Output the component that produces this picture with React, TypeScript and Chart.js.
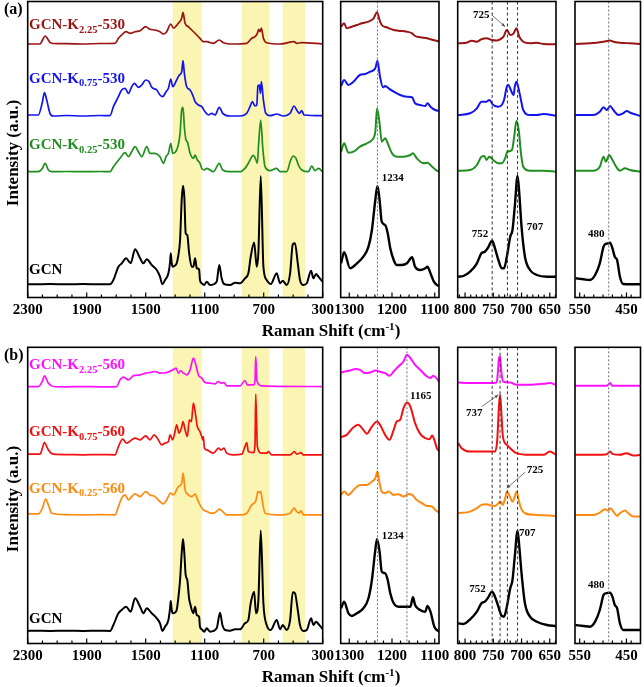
import React, { useEffect, useRef } from "react";
import { Chart, registerables } from "chart.js";
Chart.register(...registerables);

type Pt = [number, number];

// ---------------- tick labels / ticks ----------------
const mainTickLabels = [2300, 1900, 1500, 1100, 700, 300];
const z1TickLabels = [1300, 1200, 1100];
const z2TickLabels = [800, 750, 700, 650];
const z3TickLabels = [550, 450];
const mainMinor = [2200, 2100, 2000, 1800, 1700, 1600, 1400, 1300, 1200, 1000, 900, 800, 600, 500, 400];
const z1Minor = [1280, 1260, 1240, 1220, 1180, 1160, 1140, 1120];
const z2Minor = [810, 790, 780, 770, 760, 740, 730, 720, 710, 690, 680, 670, 660, 640];
const z3Minor = [540, 520, 500, 480, 460, 440];

const mainRange: [number, number] = [2300, 300];
const z1Range: [number, number] = [1320, 1090];
const z2Range: [number, number] = [813, 639];
const z3Range: [number, number] = [560, 420];

const highlightBands: [number, number][] = [[1317, 1120], [849, 662], [571, 420]];

const aZ1Lines = [1234];
const aZ2Lines = [752, 725, 707];
const aZ3Lines = [488];
const bZ1Lines = [1234, 1165];
const bZ2Lines = [752, 738, 725, 707];
const bZ3Lines = [488];

const aZ2Arrows: [Pt, Pt][] = [[[752.7, 282.5], [729, 270.8]]];
const bZ2Arrows: [Pt, Pt][] = [[[770.4, 236.8], [741, 248.5]], [[693.7, 171.2], [726.1, 155.2]]];

// ---------------- panel (a) spectra ----------------
const aGCNMain: Pt[] = [[2300,13.2],[2262,13.2],[2149,13.5],[2036,13.2],[1923,13.5],[1810,13.2],[1742,13.2],[1719,17.5],[1685,30.8],[1663,34],[1633,39.2],[1602,34.2],[1572,48.2],[1538,39.2],[1516,34.2],[1493,38.2],[1459,32.5],[1425,27.5],[1403,20.8],[1387,13.2],[1369,17.5],[1346,24.2],[1335,35],[1330,44.2],[1324,35],[1317,30.8],[1301,32],[1290,34.2],[1279,42],[1267,57.5],[1256,97.5],[1247,111.8],[1238,100],[1229,64.2],[1218,62.5],[1206,45],[1188,30.8],[1177,30.8],[1165,39.2],[1154,29.2],[1138,28.2],[1132,17.5],[1120,14.2],[1104,12.5],[1086,15.8],[1064,12.5],[1019,15.8],[1001,32.5],[985,19.2],[969,13.5],[928,12.5],[894,14.8],[860,14.2],[827,19.2],[804,24.2],[788,40.8],[765,55],[747,30.8],[736,45],[720,121.5],[702,30.8],[680,17.5],[652,13.5],[612,24.2],[589,14.2],[571,16.8],[544,12.5],[521,24.2],[503,53.2],[488,54.2],[469,34.2],[454,17.5],[431,12.5],[408,14.2],[379,26.8],[363,19.2],[345,23.5],[329,20.8],[300,15.8]];
const aK025Main: Pt[] = [[2300,125.8],[2228,125.8],[2201,129],[2182,134.2],[2160,127.5],[2137,125.8],[2036,126],[1923,125.8],[1810,126],[1742,125.8],[1719,130.8],[1674,139.2],[1640,144.8],[1617,140.8],[1595,145.8],[1572,150.8],[1550,145.8],[1527,140.8],[1493,150.8],[1471,144.2],[1437,144.2],[1403,140.8],[1380,134.2],[1362,140.8],[1346,144.2],[1330,154.2],[1317,144.2],[1290,147.5],[1267,164.2],[1256,187.5],[1247,190.2],[1238,170.8],[1227,157.5],[1218,155.8],[1199,144.2],[1177,139.2],[1165,142.5],[1150,137.5],[1132,134.2],[1120,129.2],[1104,127.5],[1086,129.2],[1041,125.8],[1001,134.2],[978,127.5],[928,125.8],[860,125.8],[827,129.2],[804,134.2],[781,140.8],[770,142.2],[752,137.5],[743,134.2],[734,154.2],[720,177.5],[707,150.8],[691,130.8],[657,126.8],[612,129.2],[589,125.8],[544,125.8],[517,137.5],[499,141.5],[481,139.2],[465,132.5],[442,127.5],[397,125.8],[374,131.5],[352,126.8],[329,129.2],[300,125.8]];
const aK075Main: Pt[] = [[2300,182.5],[2228,182.5],[2201,195],[2187,204.8],[2171,197.5],[2149,184.2],[2126,181.5],[2036,182],[1923,181.5],[1810,182],[1742,181.8],[1719,190.8],[1685,200.8],[1663,207.5],[1640,209.2],[1617,204.2],[1595,210.8],[1577,214.2],[1550,210.2],[1527,212.5],[1500,217.5],[1477,215.8],[1459,210.2],[1425,207.5],[1403,202.5],[1385,200.8],[1362,205.8],[1346,209.2],[1330,218.5],[1317,210.8],[1290,217.5],[1272,222.5],[1256,225.8],[1247,236.8],[1238,224.2],[1222,210.8],[1199,207.5],[1177,200.8],[1165,195.8],[1143,192.5],[1120,190.8],[1098,185.8],[1075,182.5],[1052,184.2],[1030,182.5],[1001,190.2],[978,184.2],[928,181.5],[860,181.5],[815,184.2],[793,190.8],[777,195.8],[759,191.5],[747,192.5],[739,211.5],[729,212.5],[722,204.2],[716,215.8],[702,197.5],[686,184.2],[657,181.8],[612,183.5],[567,181.5],[521,184.2],[494,191.5],[476,187.5],[458,184.2],[442,186.8],[426,182.5],[300,181.8]];
const aK225Main: Pt[] = [[2300,253.5],[2216,253.5],[2201,257],[2182,261.5],[2149,255.2],[2126,254],[2036,253.8],[1923,253.5],[1810,254],[1708,254.2],[1685,259.2],[1651,264.2],[1633,265.8],[1606,264.2],[1572,265.8],[1538,266.8],[1500,270.8],[1471,268.2],[1437,267.5],[1403,265.8],[1380,263.5],[1358,265.8],[1330,273.5],[1312,269.5],[1279,274.2],[1256,279.2],[1247,285.2],[1233,274.2],[1211,270.8],[1188,267.5],[1154,262.5],[1132,259.2],[1109,255.8],[1086,255.8],[1041,254.2],[1001,257.5],[973,254.8],[906,253.5],[815,254.2],[781,259.2],[759,260.8],[743,264.2],[734,268.2],[725,265.8],[716,269.5],[702,259.2],[680,254.8],[589,253.5],[494,255.8],[476,254.2],[442,254.8],[300,253.5]];

const aGCNZ1: Pt[] = [[1319,34.2],[1312,45.2],[1298,29.2],[1282,34.2],[1267,40.8],[1255,50.8],[1247,67.5],[1239,97.5],[1234,111.5],[1229,97.5],[1224,75.8],[1216,72.5],[1210,64.2],[1204,49.2],[1196,37.5],[1189,32.5],[1177,32.5],[1165,34.2],[1153,40.2],[1146,30.8],[1134,27.5],[1122,29.2],[1117,30.8],[1110,24.2],[1102,15.8],[1095,12.5],[1089,11.5]];
const aK025Z1: Pt[] = [[1319,145.8],[1312,154.2],[1302,144.8],[1290,145.8],[1275,150.8],[1259,154.2],[1247,157.5],[1239,165.8],[1235,189],[1229,174.2],[1224,155.8],[1216,159.2],[1210,154.2],[1200,144.2],[1189,140.8],[1173,140.8],[1157,142.5],[1151,144.2],[1142,139.2],[1126,134.2],[1117,134.8],[1106,130.8],[1095,126.8],[1089,125.8]];
const aK075Z1: Pt[] = [[1319,211.5],[1312,217.5],[1302,212.5],[1290,215.8],[1275,222.5],[1263,223.5],[1251,225.8],[1239,229.2],[1234,236.8],[1228,220.8],[1221,210.2],[1216,211.5],[1208,209.2],[1196,205.8],[1181,202.5],[1165,200.8],[1153,200.2],[1146,194.2],[1134,192.5],[1122,191.5],[1117,194.2],[1110,190.8],[1099,187.5],[1089,186.5]];
const aK225Z1: Pt[] = [[1319,270.8],[1312,274.2],[1306,269.2],[1298,270.2],[1282,272.5],[1271,274.2],[1255,275.8],[1243,279.2],[1235,285.2],[1229,277.5],[1224,272.5],[1212,270.2],[1196,267.5],[1185,266.8],[1165,265.8],[1153,264.2],[1146,261.5],[1134,260.2],[1118,259.2],[1110,258.2],[1099,257],[1089,255.8]];

const aGCNZ2: Pt[] = [[812,20.8],[803,21.5],[791,25.8],[779,34.2],[771,44.2],[765,45.8],[760,49.2],[752,56.8],[747,49.2],[741,37.5],[735,29.2],[731,29.2],[726,40.8],[720,60.8],[716,67.5],[712,90.8],[707,121.5],[704,104.2],[700,70.8],[694,40.8],[685,27.5],[673,22.5],[655,20.8],[639,20.8]];
const aK025Z2: Pt[] = [[812,126.8],[791,127.5],[779,132.5],[771,140.8],[766,141.5],[762,137.5],[757,140.8],[750,137.5],[741,134.2],[735,134.2],[729,139.2],[725,145.8],[717,147.5],[713,160.8],[709,176.8],[705,167.5],[701,144.2],[697,130.8],[685,126.8],[661,126.8],[639,125.8]];
const aK075Z2: Pt[] = [[812,182.5],[791,184.2],[779,189.2],[771,195.8],[762,195.8],[757,197.5],[750,192.5],[741,190.8],[735,192.5],[731,197.5],[726,210.8],[723,212.5],[719,207.5],[714,202.5],[712,210.8],[709,215.8],[706,210.8],[701,197.5],[697,187.5],[685,182.5],[673,182.5],[661,183.5],[639,181.8]];
const aK225Z2: Pt[] = [[812,254.2],[797,254.8],[788,256.8],[779,255.8],[771,258.2],[762,259.2],[753,257.5],[744,257],[738,258.2],[732,260.8],[726,267.5],[720,262.5],[714,264.2],[709,269.2],[704,260.8],[697,255.8],[685,254.2],[673,254.8],[661,253.5],[639,253.2]];

const aGCNZ3: Pt[] = [[559,19.2],[542,18.2],[528,17.5],[517,22.5],[507,34.2],[499,50.8],[496,53.2],[489,54.2],[485,54.8],[480,49.2],[475,40.8],[470,37.5],[464,20.8],[457,13.5],[443,13.2],[420,13.2]];
const aK025Z3: Pt[] = [[559,126.8],[521,126.8],[507,130.8],[499,140.8],[494,135.8],[487,142.5],[480,137.5],[472,130.8],[464,126.8],[453,129.2],[443,127.5],[420,125.8]];
const aK075Z3: Pt[] = [[559,182.5],[521,182.5],[507,185.8],[499,190.2],[492,187.5],[485,191.5],[478,187.5],[467,182.5],[457,184.2],[450,186.5],[439,184.2],[420,181.5]];
const aK225Z3: Pt[] = [[559,253.5],[528,254.2],[514,254.8],[499,255.8],[485,257],[478,255.8],[464,254.8],[443,254.2],[420,253.5]];

// ---------------- panel (b) spectra ----------------
const bGCNMain: Pt[] = [[2300,12.5],[2262,12.8],[2149,12.5],[2036,12.8],[1923,12.5],[1810,12.8],[1742,12.5],[1719,18.5],[1685,30.2],[1663,33.5],[1633,36.8],[1602,31.8],[1572,45.2],[1538,36.8],[1516,30.2],[1493,35.2],[1459,30.2],[1425,25.2],[1403,20.2],[1387,12.5],[1369,16.8],[1346,23.5],[1335,35],[1330,42.5],[1324,34],[1317,30.2],[1301,31],[1290,33.5],[1279,45],[1267,63.5],[1256,90.2],[1247,104.5],[1238,90.2],[1229,68.5],[1218,63.5],[1206,45],[1199,40.2],[1177,30.2],[1165,36.8],[1154,28.5],[1138,26.8],[1132,16.8],[1120,14.2],[1104,11.8],[1086,15.2],[1064,11.8],[1019,15.2],[996,30.8],[980,18.5],[962,13.5],[928,12.8],[894,14.2],[860,14.2],[827,20.2],[804,23.5],[788,40.2],[765,51.8],[752,30.2],[736,43.5],[720,112.8],[702,40.2],[680,18.5],[652,13.5],[612,23.5],[589,14.2],[571,18.5],[544,13.5],[521,23.5],[503,51.2],[488,50.2],[469,33.5],[454,18.5],[431,12.5],[408,13.5],[379,25.2],[363,18.5],[345,21.8],[329,19.5],[300,14.2]];
const bK025Main: Pt[] = [[2300,129.5],[2228,129.5],[2201,135],[2178,144.2],[2160,138.5],[2137,130.2],[2036,128.8],[1923,128.5],[1810,128.8],[1708,128.5],[1685,136.8],[1663,145.2],[1640,148.5],[1617,143.5],[1595,146.8],[1572,149.5],[1538,146.8],[1500,151.8],[1471,148.5],[1437,146.8],[1403,141.8],[1380,139.5],[1358,143.5],[1330,150.2],[1312,148.5],[1279,156.8],[1256,160.2],[1247,170.2],[1233,153.5],[1211,148.5],[1188,146.8],[1165,149.5],[1150,144.2],[1132,138.5],[1109,133.5],[1082,131.8],[1064,130.2],[1030,130.8],[1001,134.2],[978,131.8],[951,128.5],[860,128.5],[815,130.2],[781,138.5],[765,140.2],[752,143.5],[739,151.8],[729,150.8],[720,151.8],[707,140.2],[691,130.2],[589,128.5],[521,130.2],[494,135.2],[476,131.8],[458,130.2],[447,132.8],[431,128.5],[300,128.5]];
const bK075Main: Pt[] = [[2300,189.2],[2216,189.2],[2201,195],[2187,200.8],[2160,193.5],[2126,189.2],[2036,188.8],[1923,188.5],[1810,188.8],[1708,188.5],[1685,196.8],[1656,204.2],[1629,200.2],[1595,203.5],[1572,205.2],[1538,203.5],[1500,207.5],[1471,203.5],[1443,208.5],[1421,205.2],[1391,198.5],[1369,200.2],[1346,201.8],[1335,208.5],[1317,203.5],[1301,211.8],[1290,218.5],[1274,210.2],[1256,216.2],[1247,221.8],[1233,213.5],[1218,206.8],[1204,223.5],[1190,221.8],[1177,240.2],[1165,231.8],[1150,216.8],[1132,211.8],[1120,206.8],[1113,203.5],[1109,206.8],[1102,195.2],[1086,193.5],[1041,190.2],[1007,195.2],[989,193.5],[969,195.2],[951,190.2],[906,188.5],[849,189.2],[827,196.8],[815,200.8],[804,191.8],[770,190.8],[759,198],[754,249.2],[743,196.8],[714,190.2],[680,190.2],[668,191.8],[646,188.5],[521,188.5],[492,191.8],[476,189.2],[447,190.8],[431,188.5],[300,188.5]];
const bK225Main: Pt[] = [[2300,256.8],[2228,256.8],[2201,262],[2187,267.5],[2160,260.2],[2126,256.8],[2036,256.5],[1923,256.8],[1810,256.5],[1697,256.8],[1674,263.5],[1651,266.2],[1617,263.5],[1584,267.5],[1538,268.5],[1500,270.2],[1471,270.8],[1437,271.8],[1403,270.2],[1358,270.8],[1324,272.8],[1294,275.2],[1279,270.2],[1263,272.8],[1245,270.2],[1222,268.5],[1199,273.5],[1177,285.2],[1163,280.2],[1143,268.5],[1120,265.2],[1098,260.8],[1064,260.2],[1030,259.5],[1007,261.8],[989,260.2],[969,260.8],[951,257.5],[860,257.5],[827,262.8],[811,258.5],[770,258.5],[759,262],[754,286.8],[745,262],[714,257.5],[300,256.8]];

const bGCNZ1: Pt[] = [[1319,35.2],[1312,41.8],[1302,30.2],[1294,27.5],[1282,30.2],[1267,35.2],[1255,45.2],[1247,63.5],[1239,93.5],[1235,104.2],[1229,91.8],[1224,71.8],[1216,70.2],[1210,63.5],[1204,50.2],[1196,40.2],[1185,36.8],[1169,36.8],[1157,36.8],[1151,46.2],[1146,38.5],[1134,33.5],[1122,31.8],[1117,37.5],[1110,31.8],[1101,16.8],[1089,11.8]];
const bK025Z1: Pt[] = [[1319,148.5],[1312,151.8],[1302,148.5],[1290,153.5],[1275,158.5],[1259,158.5],[1247,161.8],[1239,165.2],[1234,171.8],[1229,160.2],[1224,151.8],[1216,150.2],[1208,151.8],[1196,148.5],[1185,149.2],[1173,146.8],[1161,149.5],[1153,148.5],[1142,143.5],[1130,140.2],[1118,137.5],[1106,136.8],[1099,133.5],[1089,130.8]];
const bK075Z1: Pt[] = [[1319,206.2],[1306,208.5],[1290,216.2],[1279,218.5],[1267,213.5],[1259,209.5],[1247,216.8],[1235,221.8],[1228,218.5],[1216,208.5],[1206,203.5],[1196,213.5],[1189,221.8],[1181,223.5],[1173,235.2],[1165,240.8],[1157,236.8],[1146,220.2],[1134,209.5],[1122,205.2],[1112,204.2],[1106,207.8],[1101,203.5],[1095,195.2],[1089,191.8]];
const bK225Z1: Pt[] = [[1319,270.8],[1310,271.8],[1298,272.8],[1286,274.2],[1275,273.5],[1263,270.2],[1251,270.8],[1239,272.8],[1228,271.5],[1216,270.2],[1206,267.5],[1196,271.8],[1185,276.8],[1173,281.8],[1165,288.5],[1157,285.2],[1146,278.5],[1134,273.5],[1118,266.8],[1110,265.2],[1104,267.5],[1096,265.2],[1089,260.8]];

const bGCNZ2: Pt[] = [[812,20.2],[803,19.5],[791,24.2],[779,31.8],[771,40.2],[765,41.8],[760,45.2],[752,51.8],[747,46.8],[741,36.8],[735,27.5],[731,26.8],[726,36.8],[720,55.2],[716,63.5],[712,86.8],[707,112.8],[704,96.8],[700,70.2],[694,40.2],[685,26.8],[673,21.8],[655,18.5],[639,17.5]];
const bK025Z2: Pt[] = [[812,130.2],[791,131.8],[779,135.2],[771,138.5],[762,139.2],[753,137.8],[747,137.5],[741,140.2],[737,141.8],[733,138.5],[729,145.2],[726,151.8],[722,148.5],[716,141.8],[712,146.8],[709,151.8],[705,143.5],[701,135.2],[694,130.2],[673,128.5],[639,127.5]];
const bK075Z2: Pt[] = [[812,200.2],[806,195.2],[791,191.8],[773,191.8],[756,191.8],[747,191.8],[743,203.5],[740,236.8],[738,248.5],[736,233.5],[733,206.8],[726,198.5],[717,193.5],[709,190.2],[685,188.5],[661,188.5],[650,191.8],[639,188.5]];
const bK225Z2: Pt[] = [[812,260.8],[791,260.2],[756,260.2],[744,260.8],[742,270.2],[740,285.2],[738,286.8],[736,273.5],[733,261.8],[720,260.8],[709,258.5],[685,258.5],[661,259.5],[650,260.2],[639,258.5]];

const bGCNZ3: Pt[] = [[559,18.5],[542,17.5],[528,16.8],[517,21.8],[507,33.5],[499,48.5],[494,50.2],[485,50.8],[480,46.8],[475,38.5],[470,35.2],[464,20.2],[457,13.5],[443,13.5],[420,13.5]];
const bK025Z3: Pt[] = [[559,128.5],[521,128.5],[507,130.8],[496,134.2],[489,132.8],[484,135.2],[478,131.8],[470,127.5],[464,130.2],[453,132.8],[446,130.2],[435,126.8],[420,126.8]];
const bK075Z3: Pt[] = [[559,188.5],[514,188.5],[492,189.2],[485,191.8],[480,189.5],[464,188.5],[450,190.2],[435,187.8],[420,188.5]];
const bK225Z3: Pt[] = [[559,257.5],[514,257.5],[492,257.5],[485,260.2],[480,257.5],[420,257.5]];

// ---------------- styling ----------------
const C = {
  black: "#000000",
  darkred: "#9A1414",
  blue: "#1414EE",
  green: "#1F8F1F",
  magenta: "#FF10FF",
  red: "#F41010",
  orange: "#FF8A10",
};
const BAND = "#FAF5B2";
const FONT = '"Liberation Serif", "Times New Roman", serif';
const Y_MAX = 296;

type Series = { data: Pt[]; color: string; width: number };
type SubProps = {
  L: number; R: number; T: number; B: number; padRight?: number;
  range: [number, number]; labels: number[]; minor: number[];
  series: Series[]; bands?: [number, number][];
  lines?: number[]; dashed?: boolean; arrows?: [Pt, Pt][];
};

function SubChart(p: SubProps) {
  const ref = useRef<HTMLCanvasElement>(null);
  const side = 22;
  const padR = p.padRight ?? 22;
  const cl = Math.floor(p.L - side);
  const ct = Math.max(0, Math.floor(p.T - 1));
  const cw = Math.ceil(p.R + padR) - cl;
  const ch = Math.ceil(p.B + 26) - ct;
  useEffect(() => {
    const canvas = ref.current!;
    const decor = {
      id: "decor",
      beforeDatasetsDraw(chart: any) {
        const { ctx, chartArea: a } = chart;
        const x = chart.scales.x;
        ctx.save();
        for (const [v1, v2] of p.bands || []) {
          const p1 = x.getPixelForValue(v1), p2 = x.getPixelForValue(v2);
          ctx.fillStyle = BAND;
          ctx.fillRect(Math.min(p1, p2), a.top, Math.abs(p2 - p1), a.bottom - a.top);
        }
        ctx.restore();
      },
      afterDatasetsDraw(chart: any) {
        const { ctx, chartArea: a } = chart;
        const x = chart.scales.x, y = chart.scales.y;
        ctx.save();
        for (const v of p.lines || []) {
          const px = x.getPixelForValue(v);
          ctx.beginPath();
          if (p.dashed) { ctx.setLineDash([3, 2.5]); ctx.strokeStyle = "#333"; ctx.lineWidth = 1; }
          else { ctx.setLineDash([2, 2]); ctx.strokeStyle = "#6a6f86"; ctx.lineWidth = 1; }
          ctx.moveTo(px, a.top);
          ctx.lineTo(px, a.bottom);
          ctx.stroke();
        }
        ctx.setLineDash([]);
        for (const [s, e] of p.arrows || []) {
          const x1 = x.getPixelForValue(s[0]), y1 = y.getPixelForValue(s[1]);
          const x2 = x.getPixelForValue(e[0]), y2 = y.getPixelForValue(e[1]);
          ctx.beginPath();
          ctx.strokeStyle = "#555";
          ctx.fillStyle = "#555";
          ctx.lineWidth = 0.8;
          ctx.moveTo(x1, y1);
          ctx.lineTo(x2, y2);
          ctx.stroke();
          const ang = Math.atan2(y2 - y1, x2 - x1);
          ctx.beginPath();
          ctx.moveTo(x2, y2);
          ctx.lineTo(x2 - 4 * Math.cos(ang - 0.4), y2 - 4 * Math.sin(ang - 0.4));
          ctx.lineTo(x2 - 4 * Math.cos(ang + 0.4), y2 - 4 * Math.sin(ang + 0.4));
          ctx.closePath();
          ctx.fill();
        }
        ctx.restore();
      },
      afterDraw(chart: any) {
        const { ctx, chartArea: a } = chart;
        const x = chart.scales.x;
        ctx.save();
        ctx.strokeStyle = "#000";
        ctx.lineWidth = 1.6;
        ctx.strokeRect(a.left, a.top, a.right - a.left, a.bottom - a.top);
        ctx.lineWidth = 1.2;
        for (const v of p.minor) {
          const px = x.getPixelForValue(v);
          ctx.beginPath(); ctx.moveTo(px, a.bottom); ctx.lineTo(px, a.bottom - 3); ctx.stroke();
        }
        for (const v of p.labels) {
          const px = x.getPixelForValue(v);
          ctx.beginPath(); ctx.moveTo(px, a.bottom); ctx.lineTo(px, a.bottom - 5); ctx.stroke();
        }
        ctx.restore();
      },
    };
    const chart = new Chart(canvas, {
      type: "line",
      data: {
        datasets: p.series.map((s) => ({
          data: s.data.map(([xv, yv]) => ({ x: xv, y: yv })),
          borderColor: s.color,
          borderWidth: s.width,
          pointRadius: 0,
          fill: false,
          cubicInterpolationMode: "monotone" as const,
        })),
      },
      options: {
        animation: false,
        responsive: false,
        maintainAspectRatio: false,
        events: [],
        layout: { padding: { left: p.L - cl, right: cl + cw - p.R, top: p.T - ct, bottom: 0 } },
        plugins: { legend: { display: false }, tooltip: { enabled: false } },
        scales: {
          x: {
            type: "linear",
            reverse: true,
            min: p.range[1],
            max: p.range[0],
            grid: { display: false, drawTicks: false },
            border: { display: false },
            ticks: {
              color: "#000",
              padding: 4,
              autoSkip: false,
              maxRotation: 0,
              font: { family: FONT, size: 15, weight: "bold" },
              callback: (v: any) => String(v),
            },
            afterBuildTicks: (s: any) => { s.ticks = p.labels.map((v) => ({ value: v })); },
            afterFit: (s: any) => { s.height = ct + ch - p.B; },
          },
          y: { display: false, min: 0, max: Y_MAX },
        },
      } as any,
      plugins: [decor],
    });
    return () => chart.destroy();
  }, []);
  return (
    <canvas ref={ref} width={cw} height={ch}
      style={{ position: "absolute", left: cl, top: ct, width: cw, height: ch }} />
  );
}

function Txt(props: { x: number; base: number; size: number; color?: string; center?: boolean; children: any }) {
  const { x, base, size, color = "#000", center, children } = props;
  return (
    <div style={{
      position: "absolute", left: x, top: base - 0.8375 * size, fontFamily: FONT, fontWeight: 700,
      fontSize: size, lineHeight: `${size}px`, color, whiteSpace: "nowrap",
      transform: center ? "translateX(-50%)" : undefined,
    }}>{children}</div>
  );
}
const Sub = (props: { children: any }) => (
  <span style={{ fontSize: "0.7em", position: "relative", top: "0.33em", lineHeight: 0 }}>{props.children}</span>
);
const Sup = (props: { children: any }) => (
  <span style={{ fontSize: "0.65em", position: "relative", top: "-0.55em", lineHeight: 0 }}>{props.children}</span>
);

function YTitle(props: { cx: number; cy: number }) {
  return (
    <div style={{
      position: "absolute", left: props.cx, top: props.cy, fontFamily: FONT, fontWeight: 700,
      fontSize: 17, lineHeight: "17px", whiteSpace: "nowrap",
      transform: "translate(-50%, -50%) rotate(-90deg)",
    }}>Intensity (a.u.)</div>
  );
}

const XL = { main: [27.7, 322.7], z1: [340.7, 439], z2: [457.7, 556], z3: [575, 640.5] };

function Panel(props: {
  T: number; B: number; dy: number; letter: string; mat: string;
  main: Series[]; z1: Series[]; z2: Series[]; z3: Series[];
  z1Lines: number[]; z2Lines: number[]; z3Lines: number[]; arrows: [Pt, Pt][];
  names: { sub: string; color: string; base: number }[];
  peaks: { t: string; x: number; base: number }[];
}) {
  const { T, B } = props;
  return (
    <>
      <SubChart L={XL.main[0]} R={XL.main[1]} T={T} B={B} range={mainRange} labels={mainTickLabels}
        minor={mainMinor} series={props.main} bands={highlightBands} />
      <SubChart L={XL.z1[0]} R={XL.z1[1]} T={T} B={B} range={z1Range} labels={z1TickLabels}
        minor={z1Minor} series={props.z1} lines={props.z1Lines} />
      <SubChart L={XL.z2[0]} R={XL.z2[1]} T={T} B={B} range={z2Range} labels={z2TickLabels}
        minor={z2Minor} series={props.z2} lines={props.z2Lines} dashed arrows={props.arrows} />
      <SubChart L={XL.z3[0]} R={XL.z3[1]} T={T} B={B} padRight={3.5} range={z3Range} labels={z3TickLabels}
        minor={z3Minor} series={props.z3} lines={props.z3Lines} />
      <Txt x={4} base={14.5 + props.dy} size={16}>({props.letter})</Txt>
      {props.names.map((n, i) => (
        <Txt key={i} x={29} base={n.base} size={15} color={n.color}>
          {n.sub ? (<>GCN-K<Sub>{n.sub}</Sub>-{props.mat}</>) : "GCN"}
        </Txt>
      ))}
      {props.peaks.map((k, i) => (
        <Txt key={"p" + i} x={k.x} base={k.base} size={11}>{k.t}</Txt>
      ))}
      <YTitle cx={11.5} cy={153 + props.dy} />
      <Txt x={331} base={336.7 + props.dy} size={17} center>
        Raman Shift (cm<Sup>-1</Sup>)
      </Txt>
    </>
  );
}

export default function App() {
  return (
    <div style={{ position: "absolute", left: 0, top: 0, width: 644, height: 687, overflow: "hidden", background: "#fff" }}>
      <Panel T={1.5} B={297.5} dy={0} letter="a" mat="530"
        main={[
          { data: aK225Main, color: C.darkred, width: 1.7 },
          { data: aK075Main, color: C.blue, width: 1.7 },
          { data: aK025Main, color: C.green, width: 1.7 },
          { data: aGCNMain, color: C.black, width: 2 },
        ]}
        z1={[
          { data: aK225Z1, color: C.darkred, width: 2 },
          { data: aK075Z1, color: C.blue, width: 2 },
          { data: aK025Z1, color: C.green, width: 2 },
          { data: aGCNZ1, color: C.black, width: 2.4 },
        ]}
        z2={[
          { data: aK225Z2, color: C.darkred, width: 2 },
          { data: aK075Z2, color: C.blue, width: 2 },
          { data: aK025Z2, color: C.green, width: 2 },
          { data: aGCNZ2, color: C.black, width: 2.4 },
        ]}
        z3={[
          { data: aK225Z3, color: C.darkred, width: 2 },
          { data: aK075Z3, color: C.blue, width: 2 },
          { data: aK025Z3, color: C.green, width: 2 },
          { data: aGCNZ3, color: C.black, width: 2.4 },
        ]}
        z1Lines={aZ1Lines} z2Lines={aZ2Lines} z3Lines={aZ3Lines} arrows={aZ2Arrows}
        names={[
          { sub: "2.25", color: C.darkred, base: 30 },
          { sub: "0.75", color: C.blue, base: 83.3 },
          { sub: "0.25", color: C.green, base: 150 },
          { sub: "", color: C.black, base: 274.3 },
        ]}
        peaks={[
          { t: "1234", x: 381.7, base: 181.7 },
          { t: "752", x: 471.7, base: 237.3 },
          { t: "707", x: 526.7, base: 230 },
          { t: "725", x: 473, base: 18.3 },
          { t: "480", x: 588, base: 237 },
        ]}
      />
      <Panel T={347.3} B={643.5} dy={345.8} letter="b" mat="560"
        main={[
          { data: bK225Main, color: C.magenta, width: 1.7 },
          { data: bK075Main, color: C.red, width: 1.7 },
          { data: bK025Main, color: C.orange, width: 1.7 },
          { data: bGCNMain, color: C.black, width: 2 },
        ]}
        z1={[
          { data: bK225Z1, color: C.magenta, width: 2 },
          { data: bK075Z1, color: C.red, width: 2 },
          { data: bK025Z1, color: C.orange, width: 2 },
          { data: bGCNZ1, color: C.black, width: 2.4 },
        ]}
        z2={[
          { data: bK225Z2, color: C.magenta, width: 2 },
          { data: bK075Z2, color: C.red, width: 2 },
          { data: bK025Z2, color: C.orange, width: 2 },
          { data: bGCNZ2, color: C.black, width: 2.4 },
        ]}
        z3={[
          { data: bK225Z3, color: C.magenta, width: 2 },
          { data: bK075Z3, color: C.red, width: 2 },
          { data: bK025Z3, color: C.orange, width: 2 },
          { data: bGCNZ3, color: C.black, width: 2.4 },
        ]}
        z1Lines={bZ1Lines} z2Lines={bZ2Lines} z3Lines={bZ3Lines} arrows={bZ2Arrows}
        names={[
          { sub: "2.25", color: C.magenta, base: 370 },
          { sub: "0.75", color: C.red, base: 436.7 },
          { sub: "0.25", color: C.orange, base: 493.3 },
          { sub: "", color: C.black, base: 623.3 },
        ]}
        peaks={[
          { t: "1165", x: 410, base: 399.3 },
          { t: "1234", x: 381.7, base: 539.3 },
          { t: "737", x: 466, base: 416 },
          { t: "725", x: 526.7, base: 473.3 },
          { t: "707", x: 519, base: 536.7 },
          { t: "752", x: 469.3, base: 592.3 },
          { t: "480", x: 588, base: 588.3 },
        ]}
      />
    </div>
  );
}
